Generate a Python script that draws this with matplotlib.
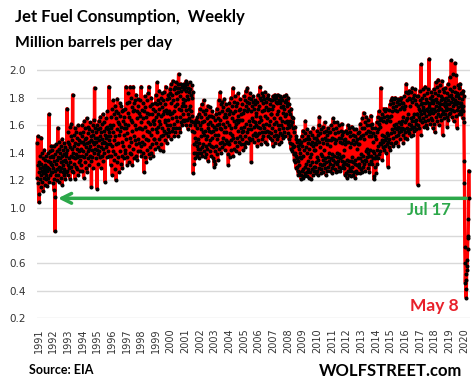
import numpy as np
import pandas as pd
import matplotlib
matplotlib.use("Agg")
import matplotlib.pyplot as plt
from matplotlib.ticker import FormatStrFormatter

# weekly jet fuel consumption, million barrels/day x100
w1991 = [147, 122, 131, 152, 118, 110, 104, 126, 133, 121, 138, 129, 115, 124, 151, 132, 119, 127, 140, 125, 112, 130, 136, 128, 122, 142,
         131, 117, 126, 135, 129, 121, 138, 124, 130, 116, 127, 134, 122, 140, 129, 119, 168, 128, 133, 124, 137, 141, 126, 132, 145, 138]
w1992 = [131, 142, 126, 118, 137, 129, 145, 121, 113, 134, 108, 83, 127, 139, 124, 146, 132, 120, 141, 135, 128, 158, 137, 124, 143, 130,
         119, 148, 136, 127, 140, 122, 133, 145, 129, 138, 117, 150, 134, 126, 142, 131, 124, 139, 147, 128, 135, 121, 144, 133, 126, 140]
w1993 = [138, 127, 172, 142, 131, 148, 124, 155, 136, 129, 146, 159, 133, 121, 144, 152, 138, 130, 161, 143, 127, 149, 182, 137, 140, 126,
         153, 145, 132, 158, 136, 121, 147, 139, 155, 130, 143, 128, 151, 137, 146, 124, 160, 141, 133, 149, 138, 127, 154, 142, 135, 148]
w1994 = [143, 131, 152, 138, 160, 127, 148, 141, 155, 122, 146, 137, 163, 150, 133, 158, 144, 129, 151, 139, 165, 147, 126, 154, 141, 136,
         159, 148, 131, 157, 143, 138, 162, 145, 152, 134, 149, 115, 156, 142, 137, 160, 148, 153, 129, 164, 146, 140, 187, 151, 143, 158]
w1995 = [148, 136, 155, 142, 160, 114, 151, 139, 157, 145, 132, 163, 149, 141, 158, 137, 152, 166, 144, 129, 155, 147, 138, 161, 150, 143,
         168, 134, 156, 148, 140, 162, 153, 119, 147, 158, 144, 165, 151, 137, 159, 146, 170, 152, 141, 157, 149, 188, 138, 155, 146, 160]
w1996 = [152, 138, 166, 131, 158, 145, 172, 124, 160, 141, 178, 155, 135, 168, 149, 128, 174, 152, 139, 165, 146, 120, 170, 157, 133, 179,
         147, 162, 137, 169, 153, 126, 161, 176, 141, 156, 167, 132, 159, 174, 148, 138, 170, 129, 163, 145, 171, 153, 136, 166, 158, 142]
w1997 = [161, 140, 172, 150, 188, 158, 137, 176, 154, 131, 169, 160, 183, 145, 133, 166, 177, 151, 140, 188, 164, 148, 180, 139, 162, 173,
         131, 156, 170, 143, 188, 176, 152, 136, 171, 149, 178, 160, 138, 182, 157, 146, 170, 135, 165, 179, 150, 141, 174, 158, 147, 169]
w1998 = [158, 141, 167, 178, 145, 162, 188, 138, 157, 171, 148, 176, 140, 165, 152, 126, 170, 146, 181, 159, 137, 173, 150, 166, 133, 178,
         156, 142, 169, 149, 183, 162, 139, 188, 155, 168, 144, 174, 136, 161, 180, 153, 140, 168, 157, 146, 175, 138, 163, 172, 150, 161]
w1999 = [164, 150, 176, 143, 170, 157, 182, 166, 147, 175, 155, 191, 168, 144, 178, 159, 172, 150, 185, 163, 142, 176, 161, 152, 180, 167,
         146, 173, 158, 183, 153, 168, 178, 141, 170, 156, 184, 164, 149, 175, 162, 188, 154, 171, 147, 179, 160, 169, 152, 182, 164, 157]
w2000 = [170, 180, 155, 186, 168, 160, 183, 150, 176, 190, 165, 156, 182, 169, 192, 158, 178, 152, 186, 170, 161, 188, 174, 155, 183, 166,
         191, 158, 179, 187, 163, 175, 152, 184, 190, 197, 172, 158, 187, 166, 181, 155, 190, 171, 162, 185, 174, 160, 188, 168, 179, 164]
w2001 = [176, 186, 163, 190, 174, 164, 188, 178, 160, 192, 171, 185, 164, 181, 190, 168, 179, 157, 187, 172, 184, 165, 191, 174, 160, 186,
         170, 182, 163, 189, 167, 180, 156, 184, 162, 125, 146, 132, 155, 140, 160, 136, 151, 162, 148, 140, 164, 138, 158, 145, 166, 143]
w2002 = [150, 162, 140, 168, 147, 136, 160, 172, 143, 157, 166, 140, 152, 175, 144, 162, 138, 170, 155, 146, 178, 141, 163, 153, 137, 168,
         156, 145, 171, 150, 139, 165, 152, 143, 174, 158, 134, 161, 167, 146, 156, 141, 173, 149, 162, 138, 167, 155, 145, 170, 151, 160]
w2003 = [156, 144, 166, 136, 159, 134, 130, 153, 141, 164, 132, 157, 168, 145, 160, 139, 172, 150, 135, 165, 153, 178, 143, 161, 169, 147,
         158, 184, 164, 140, 175, 157, 148, 170, 144, 177, 161, 151, 173, 146, 166, 155, 179, 142, 168, 159, 149, 175, 155, 166, 147, 171]
w2004 = [162, 148, 172, 139, 131, 160, 168, 146, 176, 154, 137, 170, 158, 149, 180, 142, 165, 174, 153, 138, 169, 187, 151, 163, 177, 143,
         159, 170, 148, 181, 161, 141, 174, 164, 151, 176, 145, 167, 156, 183, 162, 148, 171, 140, 164, 179, 152, 172, 146, 168, 158, 155]
w2005 = [164, 150, 175, 142, 169, 156, 181, 146, 171, 159, 178, 152, 144, 174, 161, 185, 148, 170, 155, 177, 187, 157, 172, 147, 180, 163,
         151, 176, 160, 183, 149, 170, 157, 179, 133, 165, 174, 150, 177, 163, 153, 181, 159, 172, 148, 178, 162, 154, 175, 160, 169, 152]
w2006 = [167, 153, 177, 145, 172, 159, 182, 149, 174, 162, 154, 180, 166, 188, 158, 146, 178, 164, 155, 183, 170, 150, 176, 160, 181, 152,
         171, 179, 158, 148, 184, 167, 155, 177, 161, 173, 146, 180, 165, 156, 182, 171, 152, 172, 160, 179, 155, 175, 163, 151, 178, 168]
w2007 = [168, 154, 178, 149, 172, 158, 181, 145, 174, 161, 152, 179, 165, 182, 156, 147, 177, 162, 153, 180, 168, 150, 176, 160, 182, 152,
         170, 178, 157, 146, 181, 165, 154, 176, 160, 173, 148, 180, 163, 153, 178, 169, 151, 174, 158, 181, 155, 172, 162, 152, 177, 167]
w2008 = [178, 168, 182, 163, 176, 158, 174, 161, 180, 154, 170, 150, 175, 159, 152, 168, 147, 163, 172, 143, 160, 166, 146, 162, 141, 158,
         144, 165, 139, 155, 145, 135, 159, 140, 133, 152, 138, 129, 150, 136, 130, 148, 127, 145, 134, 124, 143, 131, 149, 126, 137, 146]
w2009 = [140, 124, 148, 121, 136, 152, 127, 145, 122, 156, 138, 128, 149, 123, 142, 154, 130, 125, 163, 144, 132, 150, 126, 140, 157, 123,
         147, 134, 152, 128, 143, 122, 150, 137, 126, 155, 131, 146, 121, 139, 153, 128, 148, 133, 124, 145, 158, 130, 142, 151, 127, 147]
w2010 = [142, 130, 151, 125, 146, 133, 156, 127, 149, 137, 124, 153, 135, 160, 129, 148, 166, 132, 144, 154, 128, 139, 157, 125, 150, 138,
         131, 159, 135, 147, 126, 155, 142, 132, 162, 129, 151, 136, 124, 149, 156, 133, 146, 127, 153, 137, 158, 130, 149, 134, 155, 140]
w2011 = [145, 132, 155, 127, 149, 136, 160, 129, 151, 139, 125, 157, 135, 165, 131, 150, 138, 162, 128, 147, 154, 133, 158, 126, 149, 137,
         132, 162, 140, 134, 155, 127, 151, 139, 160, 130, 148, 136, 127, 156, 137, 151, 129, 161, 134, 147, 153, 131, 155, 138, 149, 133]
w2012 = [142, 129, 150, 124, 146, 132, 156, 125, 148, 135, 122, 154, 131, 160, 127, 148, 134, 158, 124, 144, 152, 129, 155, 123, 147, 134,
         127, 159, 137, 130, 153, 124, 149, 133, 157, 126, 146, 132, 122, 152, 135, 148, 127, 157, 131, 143, 150, 125, 154, 136, 146, 130]
w2013 = [146, 132, 155, 125, 151, 136, 161, 128, 152, 139, 126, 158, 134, 165, 130, 153, 138, 169, 132, 150, 158, 135, 162, 127, 154, 141,
         134, 166, 143, 137, 160, 129, 156, 140, 164, 132, 152, 138, 126, 160, 142, 155, 134, 167, 138, 152, 158, 132, 161, 141, 154, 136]
w2014 = [148, 121, 140, 123, 152, 136, 130, 158, 125, 150, 138, 162, 132, 155, 142, 166, 136, 157, 145, 170, 139, 161, 147, 164, 141, 159,
         187, 146, 165, 149, 135, 168, 153, 144, 163, 148, 172, 142, 166, 152, 145, 170, 149, 162, 140, 172, 151, 146, 167, 154, 164, 148]
w2015 = [130, 153, 166, 144, 171, 150, 163, 175, 142, 167, 154, 178, 147, 170, 157, 180, 151, 173, 145, 176, 160, 155, 179, 147, 171, 158,
         180, 152, 174, 161, 148, 177, 157, 170, 153, 179, 159, 145, 175, 162, 155, 178, 158, 172, 150, 180, 161, 156, 176, 163, 173, 158]
w2016 = [166, 153, 176, 147, 172, 157, 181, 151, 174, 162, 155, 184, 164, 190, 158, 150, 178, 165, 156, 183, 168, 154, 180, 161, 185, 157,
         174, 179, 160, 152, 184, 165, 158, 177, 163, 187, 153, 180, 166, 159, 182, 168, 156, 178, 163, 186, 161, 175, 164, 157, 181, 168]
w2017 = [168, 117, 174, 160, 181, 166, 172, 158, 185, 170, 164, 178, 153, 175, 204, 168, 180, 162, 176, 171, 186, 165, 173, 159, 182, 169,
         176, 163, 188, 171, 160, 179, 167, 183, 172, 158, 177, 170, 186, 164, 175, 168, 208, 173, 161, 180, 169, 176, 165, 184, 171, 178]
w2018 = [172, 164, 181, 158, 176, 169, 186, 161, 178, 172, 155, 183, 170, 191, 166, 179, 174, 188, 163, 177, 182, 168, 193, 171, 176, 160,
         185, 173, 167, 189, 175, 181, 164, 178, 172, 192, 168, 180, 153, 175, 186, 170, 179, 165, 184, 174, 177, 168, 187, 173, 180, 171]
w2019 = [175, 166, 183, 159, 178, 172, 190, 164, 181, 175, 168, 186, 172, 195, 169, 182, 177, 207, 166, 180, 185, 171, 197, 174, 179, 163,
         188, 176, 170, 205, 178, 184, 167, 181, 175, 196, 171, 183, 158, 177, 189, 173, 182, 168, 187, 176, 180, 170, 190, 176, 183, 174]
# Jan 3 .. Jul 17, 2020
w2020 = [176, 168, 183, 172, 179, 165, 185, 174, 170, 181, 162, 134, 118, 72, 60, 46, 52, 41, 35, 48, 58, 55, 62, 70, 78, 80, 92, 127, 107]

years = list(range(1991, 2021))
weekly = [w1991, w1992, w1993, w1994, w1995, w1996, w1997, w1998, w1999, w2000,
          w2001, w2002, w2003, w2004, w2005, w2006, w2007, w2008, w2009, w2010,
          w2011, w2012, w2013, w2014, w2015, w2016, w2017, w2018, w2019, w2020]

vals = np.concatenate(weekly) / 100
dates = pd.date_range(end="2020-07-17", periods=len(vals), freq="7D")

W, H = 472, 390
fig = plt.figure(figsize=(W / 100, H / 100), dpi=100)
ax = fig.add_axes([37 / W, 71.6 / H, 433 / W, 265 / H])

ax.plot(dates, vals, color="red", lw=2.4, marker="o", ms=1.9,
        mfc="black", mec="black", zorder=3, clip_on=False)

ax.set_ylim(0.2, 2.12)
ax.set_yticks(np.arange(0.2, 2.01, 0.2))
ax.yaxis.set_major_formatter(FormatStrFormatter("%.1f"))
ax.grid(axis="y", color="#d9d9d9", lw=1)
ax.set_axisbelow(True)

ax.set_xticks([pd.Timestamp(y, 3, 15) for y in years])
ax.set_xticklabels(years, rotation=90)
ax.set_xlim(dates[0] - pd.Timedelta(days=5), dates[-1] + pd.Timedelta(days=25))
for s in ax.spines.values():
    s.set_visible(False)
ax.tick_params(axis="y", length=0, pad=8, labelsize=7.5, labelcolor="#333333")
ax.tick_params(axis="x", length=0, pad=7, labelsize=7, labelcolor="#333333")

# green arrow back to the last time it was this low
green = "#2ca84a"
ax.annotate("", xy=(pd.Timestamp("1992-05-01"), 1.07), xytext=(dates[-1], 1.07),
            arrowprops=dict(arrowstyle="->,head_length=0.7,head_width=0.35", color=green, lw=2.5))

font = "Lato"
fig.text(15 / W, 1 - 17 / H, "Jet Fuel Consumption,  Weekly", fontsize=12, weight="bold", family=font, va="center")
fig.text(15 / W, 1 - 43 / H, "Million barrels per day", fontsize=11.3, weight="bold", family=font, va="center")
fig.text(451 / W, 1 - 210 / H, "Jul 17", fontsize=12, weight="bold", family=font, color=green, ha="right", va="center")
fig.text(459 / W, 1 - 306 / H, "May 8", fontsize=12.5, weight="bold", family=font, color="#e8202a", ha="right", va="center")
fig.text(29 / W, 1 - 370 / H, "Source: EIA", fontsize=9, weight="bold", family=font, va="center")
fig.text(462 / W, 1 - 371 / H, "WOLFSTREET.com", fontsize=12, weight="bold", family=font, ha="right", va="center")

fig.savefig("out.png", dpi=100)
